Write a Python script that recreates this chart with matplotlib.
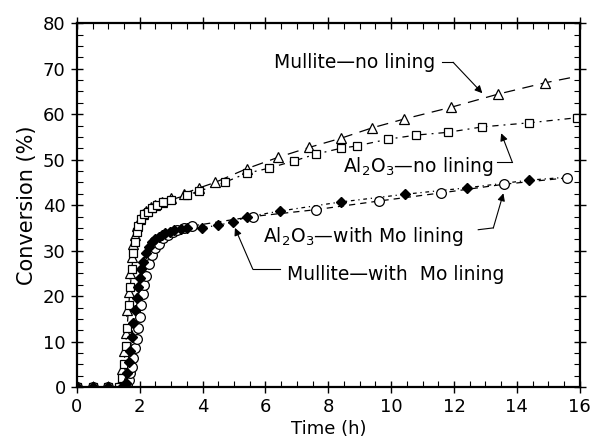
import numpy as np
import matplotlib
matplotlib.use("Agg")
import matplotlib.pyplot as plt
from matplotlib.ticker import MultipleLocator

# Mullite, no lining (open triangles)
t_mul_no = [0, 0.5, 1.0, 1.3, 1.4, 1.45, 1.5, 1.55, 1.6, 1.65, 1.7, 1.75, 1.8, 1.85, 1.9,
            2.0, 2.1, 2.2, 2.35, 2.5, 2.7, 3.0, 3.4, 3.9, 4.4, 5.4, 6.4, 7.4, 8.4, 9.4,
            10.4, 11.9, 13.4, 14.9]
c_mul_no = [0, 0, 0, 0, 1, 4, 8, 12, 17, 21, 25, 28.5, 31.5, 33.5, 35.5,
            37, 38, 38.8, 39.5, 40, 40.8, 41.5, 42.5, 43.8, 45, 48, 50.5, 52.7, 54.7, 57,
            58.9, 61.5, 64.4, 66.9]

# Al2O3, no lining (open squares)
t_al_no = [0, 0.5, 1.0, 1.35, 1.45, 1.5, 1.55, 1.6, 1.65, 1.7, 1.75, 1.8, 1.85, 1.9, 1.95,
           2.05, 2.15, 2.25, 2.4, 2.55, 2.75, 3.0, 3.5, 3.9, 4.7, 5.4, 6.1, 6.9, 7.6, 8.4,
           8.9, 9.9, 10.8, 11.8, 12.9, 14.4, 15.9]
c_al_no = [0, 0, 0, 0, 2, 5, 9, 13, 18, 22, 26, 29.5, 32, 34, 35.5,
           37, 38, 38.6, 39.3, 40, 40.6, 41.2, 42.2, 43.1, 45, 47, 48.1, 49.7, 51.2, 52.5,
           53, 54.5, 55.4, 56, 57.2, 58.1, 59.2]

# Al2O3, with Mo lining (open circles)
t_al_mo = [0, 0.5, 1.0, 1.5, 1.6, 1.65, 1.7, 1.75, 1.8, 1.85, 1.9, 1.95, 2.0, 2.05, 2.1,
           2.15, 2.2, 2.3, 2.4, 2.5, 2.6, 2.75, 2.9, 3.05, 3.2, 3.4, 3.65, 5.6, 7.6, 9.6,
           11.6, 13.6, 15.6]
c_al_mo = [0, 0, 0, 0, 0.5, 1.5, 3, 4.5, 6.5, 8.5, 10.5, 13, 15.5, 18, 20.5,
           22.5, 24.5, 27, 29, 30.5, 31.5, 32.7, 33.5, 34.1, 34.5, 35, 35.4, 37.5, 39, 40.9,
           42.7, 44.6, 46]

# Mullite, with Mo lining (filled diamonds)
t_mul_mo = [0, 0.5, 1.0, 1.45, 1.55, 1.6, 1.65, 1.7, 1.75, 1.8, 1.85, 1.9, 1.95, 2.0, 2.05,
            2.1, 2.2, 2.3, 2.4, 2.5, 2.6, 2.7, 2.8, 2.95, 3.1, 3.3, 3.5, 3.97, 4.5, 4.97,
            5.4, 6.46, 8.4, 10.45, 12.4, 14.4]
c_mul_mo = [0, 0, 0, 0, 1, 3, 5.5, 8, 11, 14, 17, 19.5, 22, 24, 26,
            27.5, 29.5, 30.8, 31.8, 32.5, 33, 33.5, 33.8, 34.2, 34.5, 34.8, 35, 35.0, 35.6, 36.3,
            37.4, 38.7, 40.7, 42.4, 43.8, 45.5]

# fitted trend lines continue a little past the last point
t_fit_end = 15.7
c_mul_no_end = 68.0
c_mul_mo_end = 46.2

plt.rcParams["font.family"] = "DejaVu Sans"
fig = plt.figure(figsize=(5.91, 4.45), dpi=100)
ax = fig.add_axes([0.130, 0.130, 0.851, 0.818])

k = dict(color="black", lw=0.9)
ax.plot(t_mul_no + [t_fit_end], c_mul_no + [c_mul_no_end], dashes=(9, 6), **k)
ax.plot(t_al_no, c_al_no, dashes=(5, 4, 1.5, 4), **k)
ax.plot(t_al_mo, c_al_mo, dashes=(5, 4), **k)
ax.plot(t_mul_mo + [t_fit_end], c_mul_mo + [c_mul_mo_end], dashes=(3, 3, 1, 3), **k)

ax.plot(t_mul_no, c_mul_no, ls="none", marker="^", ms=6.5, mfc="white", mec="black", mew=0.9)
ax.plot(t_al_no, c_al_no, ls="none", marker="s", ms=5.5, mfc="white", mec="black", mew=0.9)
ax.plot(t_al_mo, c_al_mo, ls="none", marker="o", ms=7, mfc="white", mec="black", mew=0.9)
ax.plot(t_mul_mo, c_mul_mo, ls="none", marker="D", ms=5, mfc="black", mec="black")

ax.set_xlim(0, 16)
ax.set_ylim(0, 80)
ax.xaxis.set_major_locator(MultipleLocator(2))
ax.xaxis.set_minor_locator(MultipleLocator(0.5))
ax.yaxis.set_major_locator(MultipleLocator(10))
ax.yaxis.set_minor_locator(MultipleLocator(2.5))
ax.tick_params(which="major", direction="inout", length=9, width=1.0,
               top=True, right=True, labelsize=13)
ax.tick_params(which="minor", direction="in", length=4, width=0.8, top=True, right=True)
for sp in ax.spines.values():
    sp.set_linewidth(1.6)

ax.set_xlabel("Time (h)", fontsize=13, labelpad=3)
ax.set_ylabel("Conversion (%)", fontsize=15, labelpad=4)

fs = 13.5
tk = dict(fontsize=fs, va="baseline", ha="left")
ax.text(6.27, 70.1, "Mullite—no lining", **tk)
ax.text(8.47, 47.3, r"Al$_2$O$_3$—no lining", **tk)
ax.text(5.92, 31.9, r"Al$_2$O$_3$—with Mo lining", **tk)
ax.text(6.7, 23.5, "Mullite—with  Mo lining", **tk)

ap = dict(arrowstyle="-|>", color="black", lw=0.8, mutation_scale=11, shrinkA=0, shrinkB=0)
lk = dict(color="black", lw=0.8)
# leaders
ax.plot([11.62, 11.97], [71.4, 71.4], **lk)
ax.annotate("", xy=(12.9, 64.6), xytext=(11.97, 71.4), arrowprops=ap)
ax.plot([13.38, 13.85], [49.5, 49.5], **lk)
ax.annotate("", xy=(13.5, 55.8), xytext=(13.85, 49.5), arrowprops=ap)
ax.plot([12.77, 13.25], [34.6, 35.0], **lk)
ax.annotate("", xy=(13.57, 42.6), xytext=(13.25, 35.0), arrowprops=ap)
ax.plot([6.45, 5.6], [25.9, 25.9], **lk)
ax.annotate("", xy=(5.03, 35.0), xytext=(5.6, 25.9), arrowprops=ap)

fig.savefig("out.png", dpi=100)
